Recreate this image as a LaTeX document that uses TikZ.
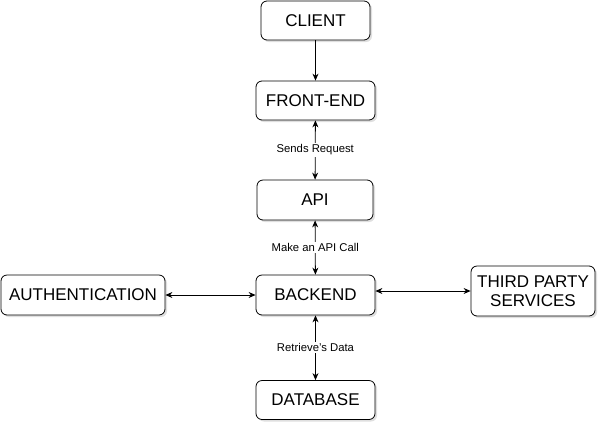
\documentclass[tikz,border=0pt]{standalone}
\usepackage{fontspec}
\setmainfont{Liberation Sans}
\usetikzlibrary{arrows.meta,shadows}
\begin{document}
\begin{tikzpicture}[x=1pt,y=-1pt,
  box/.style={draw=black, line width=0.8pt, rounded corners=6pt, fill=white,
    drop shadow={opacity=0.25, shadow xshift=2pt, shadow yshift=-2pt},
    inner sep=0pt, align=center, font=\fontsize{17}{19}\selectfont},
  link/.style={line width=0.8pt, {Stealth[length=7pt,width=6pt]}-{Stealth[length=7pt,width=6pt]}},
  onelink/.style={line width=0.8pt, -{Stealth[length=7pt,width=6pt]}},
  lab/.style={fill=white, inner sep=1.5pt, font=\fontsize{11.3}{13}\selectfont}]
\useasboundingbox (0,0) rectangle (602,432);
\node[box, minimum width=109pt, minimum height=39pt] (client) at (315.5,20.5) {CLIENT};
\node[box, minimum width=119pt, minimum height=39pt] (front) at (315.5,100.5) {FRONT-END};
\node[box, minimum width=116pt, minimum height=40pt] (api) at (315,200) {API};
\node[box, minimum width=119pt, minimum height=40pt] (back) at (315.5,295) {BACKEND};
\node[box, minimum width=119pt, minimum height=39pt] (db) at (315.5,400) {DATABASE};
\node[box, minimum width=164pt, minimum height=40pt] (auth) at (83,295) {AUTHENTICATION};
\node[box, minimum width=124pt, minimum height=50pt] (third) at (533,291) {THIRD PARTY\\SERVICES};
\draw[onelink] (client) -- (front);
\draw[link] (front) -- node[lab] (l1) {Sends Request} (api);
\draw[link] (api) -- node[lab] (l2) {Make an API Call} (back);
\draw[link] (back) -- node[lab] (l3) {Retrieve's Data} (db);
\draw[link] (auth) -- (back);
\draw[link] (back.east |- third.west) -- (third.west);
\end{tikzpicture}
\end{document}
